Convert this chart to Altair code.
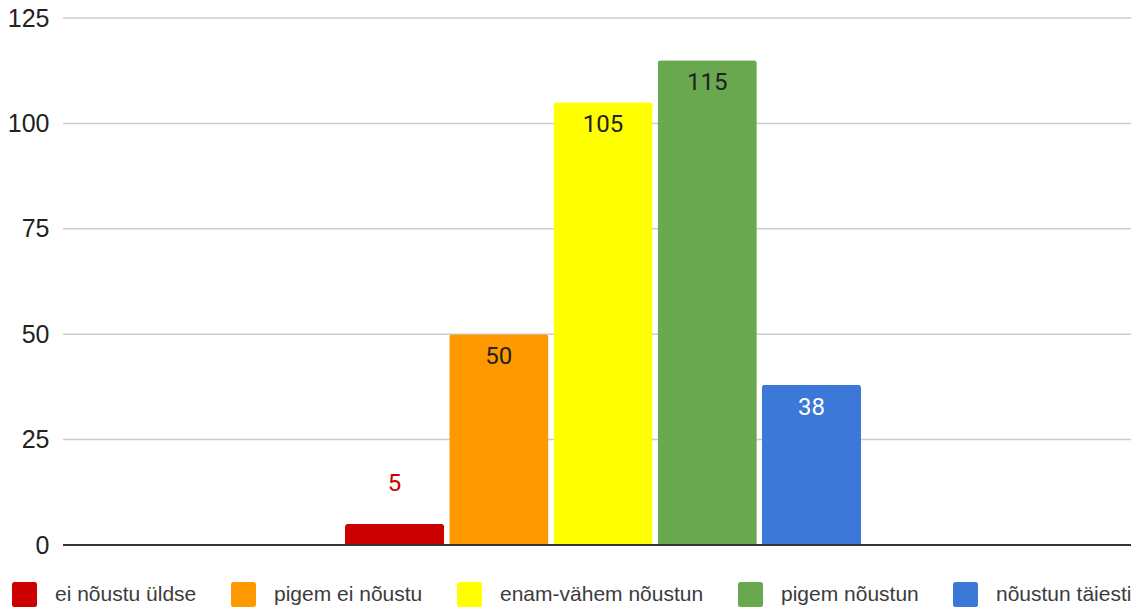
import altair as alt
import pandas as pd

categories = ["ei nõustu üldse", "pigem ei nõustu", "enam-vähem nõustun", "pigem nõustun", "nõustun täiesti"]
values = [5, 50, 105, 115, 38]
bar_colors = ["#cc0000", "#ff9900", "#ffff00", "#6aa84f", "#3c78d8"]
label_colors = ["#cc0000", "#222222", "#222222", "#222222", "#ffffff"]
label_inside = [False, True, True, True, True]
y_ticks = [0, 25, 50, 75, 100, 125]

df = pd.DataFrame({
    "cat": categories,
    "value": values,
    "lc": label_colors,
    "inside": label_inside,
})
grid_df = pd.DataFrame({"g": y_ticks[1:]})

W = 1068
H = 527

xenc = alt.X("cat:N", sort=categories, axis=None,
             scale=alt.Scale(range=[279.5, 800.5], paddingInner=0.048, paddingOuter=0.024))
yscale = alt.Scale(domain=[0, 125], nice=False)
yaxis = alt.Axis(values=y_ticks, domain=False, ticks=False, grid=False,
                 labelFont="Liberation Sans", labelFontSize=25,
                 labelColor="#222222", labelPadding=14)
yenc = alt.Y("value:Q", title=None, scale=yscale, axis=yaxis)

grid = alt.Chart(grid_df).mark_rule(color="#cccccc", strokeWidth=1.5).encode(
    y=alt.Y("g:Q", title=None, scale=yscale, axis=yaxis),
    x=alt.value(0), x2=alt.value(W),
)

rounded_square = ("M-0.8,-1H0.8Q1,-1 1,-0.8V0.8Q1,1 0.8,1H-0.8Q-1,1 -1,0.8V-0.8Q-1,-1 -0.8,-1Z")

bars = alt.Chart(df).mark_bar(cornerRadiusTopLeft=3, cornerRadiusTopRight=3).encode(
    x=xenc,
    y=yenc,
    color=alt.Color("cat:N", sort=categories,
                    scale=alt.Scale(domain=categories, range=bar_colors),
                    legend=alt.Legend(title=None, orient="none", legendX=-51, legendY=564,
                                      direction="horizontal", columns=5,
                                      symbolType=rounded_square, symbolSize=625,
                                      symbolStrokeWidth=0, symbolOpacity=1,
                                      labelFont="Liberation Sans", labelFontSize=21,
                                      labelColor="#3c3c3c", labelOffset=18,
                                      labelLimit=0, columnPadding=34)),
)

inside = alt.Chart(df).transform_filter("datum.inside").mark_text(
    baseline="top", dy=11, font="Roboto", fontSize=24
).encode(
    x=xenc, y=alt.Y("value:Q"), text=alt.Text("value:Q"),
    fill=alt.Fill("lc:N", scale=None),
)

outside = alt.Chart(df).transform_filter("!datum.inside").mark_text(
    baseline="bottom", dy=-28, font="Roboto", fontSize=24
).encode(
    x=xenc, y=alt.Y("value:Q"), text=alt.Text("value:Q"),
    fill=alt.Fill("lc:N", scale=None),
)

zero = alt.Chart(df).mark_rule(color="#333333", strokeWidth=2).encode(
    y=alt.datum(0), x=alt.value(0), x2=alt.value(W))

chart = alt.layer(grid, bars, zero, inside, outside).properties(
    width=W, height=H,
    autosize=alt.AutoSizeParams(type="none"),
    padding={"left": 55, "top": 10, "right": 0, "bottom": 72},
    background="white",
).configure_view(stroke=None)

chart.save("out.html", embed_options={"renderer": "svg", "actions": False})
